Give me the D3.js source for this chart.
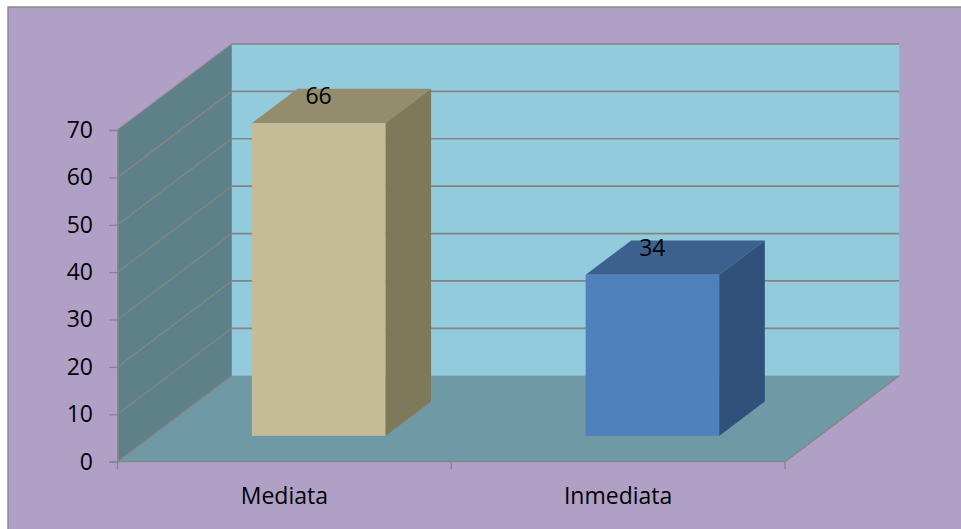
<!DOCTYPE html>
<html><head><meta charset="utf-8">
<script src="https://cdn.jsdelivr.net/npm/d3@7"></script>
<style>html,body{margin:0;padding:0;background:#fff;}svg{display:block;}</style>
</head><body>
<script>
const categories = ["Mediata", "Inmediata"];
const values = [66, 34];
const yTicks = [0, 10, 20, 30, 40, 50, 60, 70];
const barColors = [
  {front:"#C4BC96", top:"#938D6E", side:"#7F795C"},
  {front:"#4F81BD", top:"#3C618E", side:"#31517A"}
];

const W = 961, H = 529;
const FONT = "'Open Sans', 'Noto Sans', sans-serif";
const svg = d3.select("body").append("svg").attr("width", W).attr("height", H)
  .style("font-family", FONT);

// frame
svg.append("rect").attr("x", 8).attr("y", 7).attr("width", W).attr("height", H)
  .attr("fill", "#B1A0C6").attr("stroke", "#868686").attr("stroke-width", 1.4);

const x = d3.scaleBand().domain(categories).range([117.5, 785]).padding(0);
const y = d3.scaleLinear().domain([0, 70]).range([461.7, 130]);
const DX = 114.2, DY = -86;   // full depth offset
const P = (px, py, d) => [px + d * DX, py + d * DY];
const poly = pts => pts.map(p => p.join(",")).join(" ");
const grid = "#858585";

const x0 = x.range()[0], x1 = x.range()[1];
const yTop = y(70), yBot = y(0);

// back wall
svg.append("polygon").attr("points", poly([P(x0, yTop, 1), P(x1, yTop, 1), P(x1, yBot, 1), P(x0, yBot, 1)]))
  .attr("fill", "#92CBDC");
// side wall
svg.append("polygon").attr("points", poly([[x0, yTop], P(x0, yTop, 1), P(x0, yBot, 1), [x0, yBot]]))
  .attr("fill", "#5E8088");
// floor
svg.append("polygon").attr("points", poly([[x0, yBot], [x1, yBot], P(x1, yBot, 1), P(x0, yBot, 1)]))
  .attr("fill", "#6F9AA5");

// gridlines
yTicks.forEach(v => {
  const a = [x0, y(v)], b = P(x0, y(v), 1), c = P(x1, y(v), 1);
  svg.append("line").attr("x1", a[0]).attr("y1", a[1]).attr("x2", b[0]).attr("y2", b[1])
    .attr("stroke", grid).attr("stroke-width", 1.3);
  if (v > 0) svg.append("line").attr("x1", b[0]).attr("y1", b[1]).attr("x2", c[0]).attr("y2", c[1])
    .attr("stroke", grid).attr("stroke-width", 1.7);
});
// floor right edge
const fr = P(x1, yBot, 1);
svg.append("line").attr("x1", x1).attr("y1", yBot).attr("x2", fr[0]).attr("y2", fr[1])
  .attr("stroke", grid).attr("stroke-width", 1.3);

// y axis
const yAxis = d3.axisLeft(y).tickValues(yTicks).tickSize(8.5).tickPadding(16).tickFormat(d3.format("d"));
const gy = svg.append("g").attr("transform", `translate(${x0},0)`).call(yAxis);
gy.selectAll("path, line").attr("stroke", grid).attr("stroke-width", 1.3);
gy.selectAll("text").attr("font-size", 23).attr("fill", "#000").attr("font-family", FONT);

// x axis
const gx = svg.append("g").attr("transform", `translate(0,${yBot})`);
gx.append("line").attr("x1", x0).attr("x2", x1).attr("y1", 0).attr("y2", 0).attr("stroke", grid).attr("stroke-width", 1.3);
const bounds = categories.map(c => x(c)).concat([x1]);
gx.selectAll("line.tk").data(bounds).enter().append("line").attr("class", "tk")
  .attr("x1", d => d).attr("x2", d => d).attr("y1", 0).attr("y2", 7.5)
  .attr("stroke", grid).attr("stroke-width", 1.3);
gx.selectAll("text").data(categories).enter().append("text")
  .attr("x", d => x(d) + x.bandwidth() / 2).attr("y", 42.5)
  .attr("text-anchor", "middle").attr("font-size", 23).attr("fill", "#000")
  .text(d => d);

// bars
const bw = x.bandwidth() * 0.4;
const d0 = 0.3, d1 = 0.7;
categories.forEach((c, i) => {
  const cx = x(c) + x.bandwidth() / 2;
  const l = cx - bw / 2, r = cx + bw / 2;
  const yt = y(values[i]), yb = y(0);
  const col = barColors[i];
  // top
  svg.append("polygon").attr("points", poly([P(l, yt, d0), P(r, yt, d0), P(r, yt, d1), P(l, yt, d1)]))
    .attr("fill", col.top);
  // side
  svg.append("polygon").attr("points", poly([P(r, yt, d0), P(r, yt, d1), P(r, yb, d1), P(r, yb, d0)]))
    .attr("fill", col.side);
  // front
  const f1 = P(l, yt, d0), f2 = P(r, yb, d0);
  svg.append("rect").attr("x", f1[0]).attr("y", f1[1]).attr("width", f2[0] - f1[0]).attr("height", f2[1] - f1[1])
    .attr("fill", col.front);
  // label
  const lab = P(cx, yt, (d0 + d1) / 2);
  svg.append("text").attr("x", cx + d0 * DX).attr("y", lab[1] - 1.5)
    .attr("text-anchor", "middle").attr("font-size", 23).attr("fill", "#000")
    .text(values[i]);
});
</script>
</body></html>
